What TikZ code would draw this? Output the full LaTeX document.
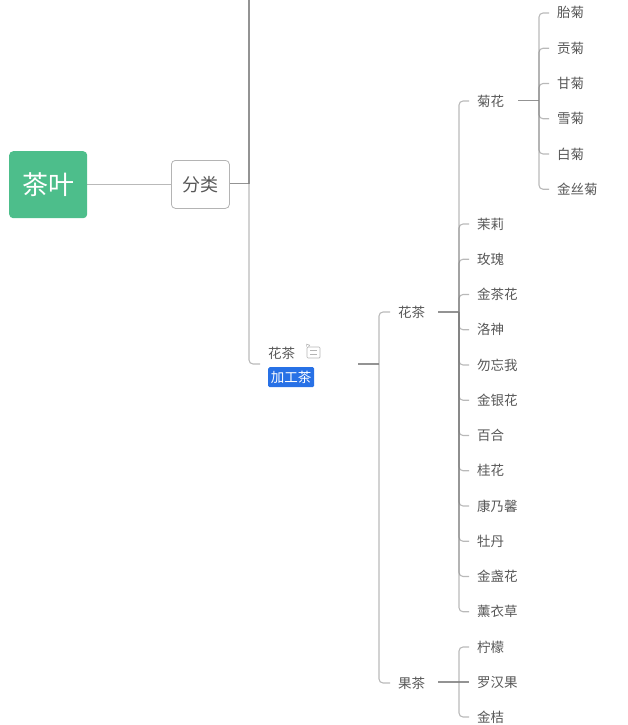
\documentclass[tikz,border=0pt]{standalone}
\usepackage{fontspec}
\setmainfont{Noto Sans CJK SC}
\usetikzlibrary{positioning,calc}
\definecolor{leafgrn}{HTML}{4DBE8B}
\definecolor{tagblue}{HTML}{2871E6}
\definecolor{linec}{HTML}{B4B4B4}
\definecolor{linedk}{HTML}{808080}
\definecolor{inkg}{HTML}{585858}
\tikzset{
  rootbox/.style={rectangle, rounded corners=4pt, fill=leafgrn, text=white, font=\fontsize{26}{28}\selectfont,
              minimum width=78pt, minimum height=67pt, inner sep=0pt},
  mainbox/.style={rectangle, rounded corners=4pt, draw=linec, fill=white, line width=0.8pt, text=inkg,
              font=\fontsize{18}{20}\selectfont, minimum width=58pt, minimum height=48pt, inner sep=0pt},
  tea/.style={text=inkg, font=\fontsize{13.5}{15}\selectfont, inner ysep=0pt, inner xsep=8pt, outer sep=0pt,
              text height=12pt, text depth=2pt},
  teabelow/.style={tea, below=of #1.south west, anchor=north west},
  tag/.style={rectangle, rounded corners=1.5pt, fill=tagblue, text=white, font=\fontsize{13.5}{15}\selectfont,
              minimum width=46pt, minimum height=20pt, inner sep=0pt},
  noteicon/.style={rectangle, rounded corners=1pt, draw=linec, line width=0.7pt, minimum width=13pt, minimum height=11pt, inner sep=0pt},
  fl/.style={line width=1.1pt, draw=linedk, draw opacity=0.55, rounded corners=4pt},
  fldk/.style={line width=1.1pt, draw=linedk, draw opacity=0.85},
}
\begin{document}
\begin{tikzpicture}[x=1pt, y=-1pt, node distance=21.25pt]
  \useasboundingbox (0,0) rectangle (628,725);
  \node[rootbox, anchor=north west] (root) at (9,151) {茶叶};
  \node[mainbox, anchor=north west] (fenlei) at (171,160) {分类};
  % second column
  \node[tea, anchor=west] (huacha) at (260,353) {花茶};
  \node[noteicon] (note) at (313.5,352.5) {};
  \node[tag, anchor=north west] (jiagong) at (268,367) {加工茶};
  \draw[line width=0.6pt, draw=linec] ($(note.center)+(-3.5,-2)$) -- ($(note.center)+(3.5,-2)$);
  \draw[line width=0.6pt, draw=linec] ($(note.center)+(-3.5,2)$) -- ($(note.center)+(3.5,2)$);
  \draw[line width=0.6pt, draw=linec] (note.north west) -- ++(0,-2.5) -- ++(3,1) -- ++(-1,1.5);
  % third column
  \node[tea, anchor=west] (huacha2) at (390,312) {花茶};
  \node[tea, anchor=west] (guocha) at (390,683) {果茶};
  % flowers
  \node[tea, anchor=west] (juhua) at (469,101) {菊花};
  \node[tea, anchor=west] (moli) at (469,224) {茉莉};
  \node[teabelow=moli] (meigui) {玫瑰};
  \node[teabelow=meigui] (jinchahua) {金茶花};
  \node[teabelow=jinchahua] (luoshen) {洛神};
  \node[teabelow=luoshen] (wuwangwo) {勿忘我};
  \node[teabelow=wuwangwo] (jinyinhua) {金银花};
  \node[teabelow=jinyinhua] (baihe) {百合};
  \node[teabelow=baihe] (guihua) {桂花};
  \node[teabelow=guihua] (kangnaixin) {康乃馨};
  \node[teabelow=kangnaixin] (mudan) {牡丹};
  \node[teabelow=mudan] (jinzhanhua) {金盏花};
  \node[teabelow=jinzhanhua] (xunyicao) {薰衣草};
  % chrysanthemums
  \node[tea, anchor=west] (taiju) at (549,13) {胎菊};
  \node[teabelow=taiju, node distance=21.2pt] (gongju) {贡菊};
  \node[teabelow=gongju, node distance=21.2pt] (ganju) {甘菊};
  \node[teabelow=ganju, node distance=21.2pt] (xueju) {雪菊};
  \node[teabelow=xueju, node distance=21.2pt] (baiju) {白菊};
  \node[teabelow=baiju, node distance=21.2pt] (jinsiju) {金丝菊};
  % fruits
  \node[tea, anchor=west] (ningmeng) at (469,647) {柠檬};
  \node[tea, anchor=west] (luohanguo) at (469,682) {罗汉果};
  \node[tea, anchor=west] (jinju) at (469,717) {金桔};
  % hubs of the brackets
  \coordinate (hubtop) at (249,0);
  \coordinate (hubfen) at (249,183.5);
  \coordinate (hubcha) at (379,364);
  \coordinate (hubhua) at (459,312);
  \coordinate (hubju) at (539,100.5);
  \coordinate (hubguo) at (459,682);
  % connectors
  \draw[fl] (root.east) -- (fenlei.west |- root.east);
  \draw[fldk] (fenlei.east |- hubfen) -- (hubfen);
  \draw[fldk] (hubtop) -- (hubfen);
  \draw[fl] (hubfen) |- (huacha.west |- hubcha);
  \draw[fldk] ($(hubcha)+(-21,0)$) -- (hubcha);
  \draw[fl] (hubcha) |- (huacha2.west);
  \draw[fl] (hubcha) |- (guocha.west);
  \draw[fldk] ($(hubhua)+(-21,0)$) -- (hubhua);
  \draw[fl] (hubhua) |- (juhua.west); \draw[fl] (hubhua) |- (moli.west);
  \draw[fl] (hubhua) |- (meigui.west); \draw[fl] (hubhua) |- (jinchahua.west);
  \draw[fl] (hubhua) |- (luoshen.west); \draw[fl] (hubhua) |- (wuwangwo.west);
  \draw[fl] (hubhua) |- (jinyinhua.west); \draw[fl] (hubhua) |- (baihe.west);
  \draw[fl] (hubhua) |- (guihua.west); \draw[fl] (hubhua) |- (kangnaixin.west);
  \draw[fl] (hubhua) |- (mudan.west); \draw[fl] (hubhua) |- (jinzhanhua.west);
  \draw[fl] (hubhua) |- (xunyicao.west);
  \draw[fldk] ($(hubju)+(-21,0)$) -- (hubju);
  \draw[fl] (hubju) |- (taiju.west); \draw[fl] (hubju) |- (gongju.west);
  \draw[fl] (hubju) |- (ganju.west); \draw[fl] (hubju) |- (xueju.west);
  \draw[fl] (hubju) |- (baiju.west); \draw[fl] (hubju) |- (jinsiju.west);
  \draw[fldk] ($(hubguo)+(-21,0)$) -- (luohanguo.west);
  \draw[fl] (hubguo) |- (ningmeng.west); \draw[fl] (hubguo) |- (jinju.west);
\end{tikzpicture}
\end{document}
